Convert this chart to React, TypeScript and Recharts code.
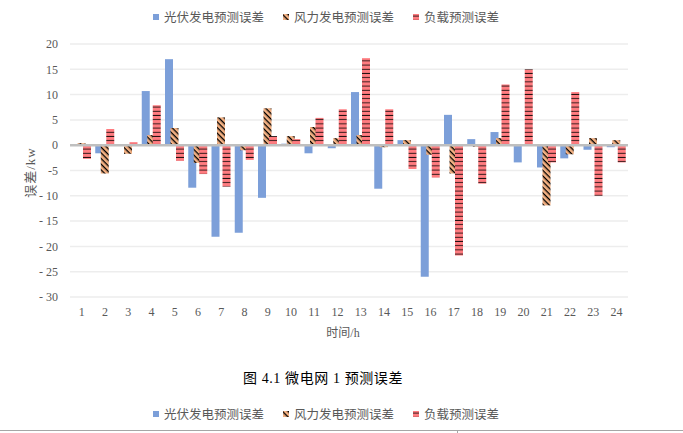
import { BarChart, Bar, XAxis, YAxis, CartesianGrid, ReferenceLine } from "recharts";

const hours = ["1", "2", "3", "4", "5", "6", "7", "8", "9", "10", "11", "12", "13", "14", "15", "16", "17", "18", "19", "20", "21", "22", "23", "24"];
const pvError = [0, -1.6, 0, 10.7, 17.0, -8.4, -18.1, -17.3, -10.4, 0.3, -1.6, -0.6, 10.5, -8.6, 1.0, -26.0, 6.0, 1.2, 2.6, -3.4, -4.4, -2.6, -0.9, -0.4];
const windError = [0.4, -5.6, -1.7, 2.0, 3.4, -3.5, 5.5, -1.0, 7.3, 1.8, 3.6, 1.4, 2.0, -0.4, 1.0, -1.9, -5.6, -0.3, 1.4, 0, -11.9, -1.8, 1.4, 1.0];
const loadError = [-2.7, 3.2, 0.6, 7.9, -3.1, -5.7, -8.2, -2.9, 1.8, 1.2, 5.4, 7.1, 17.2, 7.1, -4.7, -6.4, -21.8, -7.6, 12.0, 15.0, -3.4, 10.5, -10.0, -3.4];
const yTicks = [20, 15, 10, 5, 0, -5, -10, -15, -20, -25, -30];
const seriesNames = ["光伏发电预测误差", "风力发电预测误差", "负载预测误差"];

const data = hours.map((h, i) => ({ hour: h, pv: pvError[i], wind: windError[i], load: loadError[i] }));

const BLUE = "#7C9FD9";
const ORANGE = "#F4B183";
const PINK = "#FF7C80";
const serif = '"Liberation Serif", "Noto Sans CJK SC", serif';
const cjk = '"Noto Sans CJK SC", sans-serif';

function Patterns({ prefix }: { prefix: string }) {
  return (
    <defs>
      <pattern id={prefix + "wind"} width="4" height="4" patternUnits="userSpaceOnUse" patternTransform="rotate(45)">
        <rect width="4" height="4" fill={ORANGE} />
        <rect width="4" height="1.3" fill="#000" />
      </pattern>
      <pattern id={prefix + "load"} width="4" height="4.2" patternUnits="userSpaceOnUse">
        <rect width="4" height="4.2" fill={PINK} />
        <rect y="1.6" width="4" height="0.8" fill="#000" />
      </pattern>
    </defs>
  );
}

function LegendRow({ top, prefix }: { top: number; prefix: string }) {
  const fills = [BLUE, `url(#${prefix}wind)`, `url(#${prefix}load)`];
  return (
    <div style={{ position: "absolute", left: 153, top, display: "flex", alignItems: "center", fontFamily: cjk, fontSize: 12.5, color: "#595959", whiteSpace: "nowrap" }}>
      <svg width={0} height={0} style={{ position: "absolute" }}>
        <Patterns prefix={prefix} />
      </svg>
      {seriesNames.map((name, i) => (
        <div key={name} style={{ display: "flex", alignItems: "center", marginRight: 19 }}>
          <svg width={6} height={6} style={{ marginRight: 5 }}>
            <rect width={6} height={6} fill={fills[i]} />
          </svg>
          <span>{name}</span>
        </div>
      ))}
    </div>
  );
}

const fmtY = (v: number) => {
  if (v >= 0) return `${v}`;
  const a = Math.abs(v);
  return a < 10 ? `-${a}` : `- ${a}`;
};

export default function App() {
  return (
    <div style={{ position: "fixed", left: 0, top: 0, width: 683, height: 433, background: "#fff", overflow: "hidden" }}>
      <LegendRow top={7} prefix="lt" />
      <BarChart
        width={683}
        height={433}
        data={data}
        margin={{ top: 44, right: 55, left: 20, bottom: 96 }}
        barSize={8}
        barGap={-2.5}
      >
        <Patterns prefix="c" />
        <CartesianGrid vertical={false} stroke="#EDEDED" strokeWidth={1.5} />
        <XAxis
          dataKey="hour"
          axisLine={false}
          tickLine={false}
          height={40}
          tickMargin={4}
          tick={{ fill: "#595959", fontSize: 12, fontFamily: serif }}
          label={{ value: "时间/h", position: "insideBottom", offset: 0, dx: -6, style: { fill: "#595959", fontSize: 12, fontFamily: serif } }}
        />
        <YAxis
          domain={[-30, 20]}
          ticks={yTicks}
          interval={0}
          width={50}
          axisLine={false}
          tickLine={false}
          tickMargin={6}
          tickFormatter={fmtY}
          tick={{ fill: "#595959", fontSize: 12, fontFamily: serif }}
          label={{ value: "误差/kw", angle: -90, position: "insideLeft", offset: 10, dy: 2, style: { fill: "#595959", fontSize: 13, fontFamily: serif, textAnchor: "middle", letterSpacing: 1 } }}
        />
        <Bar dataKey="pv" name={seriesNames[0]} fill={BLUE} isAnimationActive={false} />
        <Bar dataKey="wind" name={seriesNames[1]} fill="url(#cwind)" isAnimationActive={false} />
        <Bar dataKey="load" name={seriesNames[2]} fill="url(#cload)" isAnimationActive={false} />
        <ReferenceLine y={0} stroke="#BFBFBF" strokeWidth={2.5} />
      </BarChart>
      <div style={{ position: "absolute", left: 0, width: 646, top: 367, textAlign: "center", fontFamily: serif, fontSize: 14, letterSpacing: 0.6, color: "#000" }}>
        图 4.1 微电网 1 预测误差
      </div>
      <LegendRow top={404} prefix="lb" />
      <div style={{ position: "absolute", left: 0, top: 430, width: 683, height: 1, background: "#A6A6A6" }} />
      <div style={{ position: "absolute", left: 457, top: 430, width: 1, height: 3, background: "#A6A6A6" }} />
    </div>
  );
}
